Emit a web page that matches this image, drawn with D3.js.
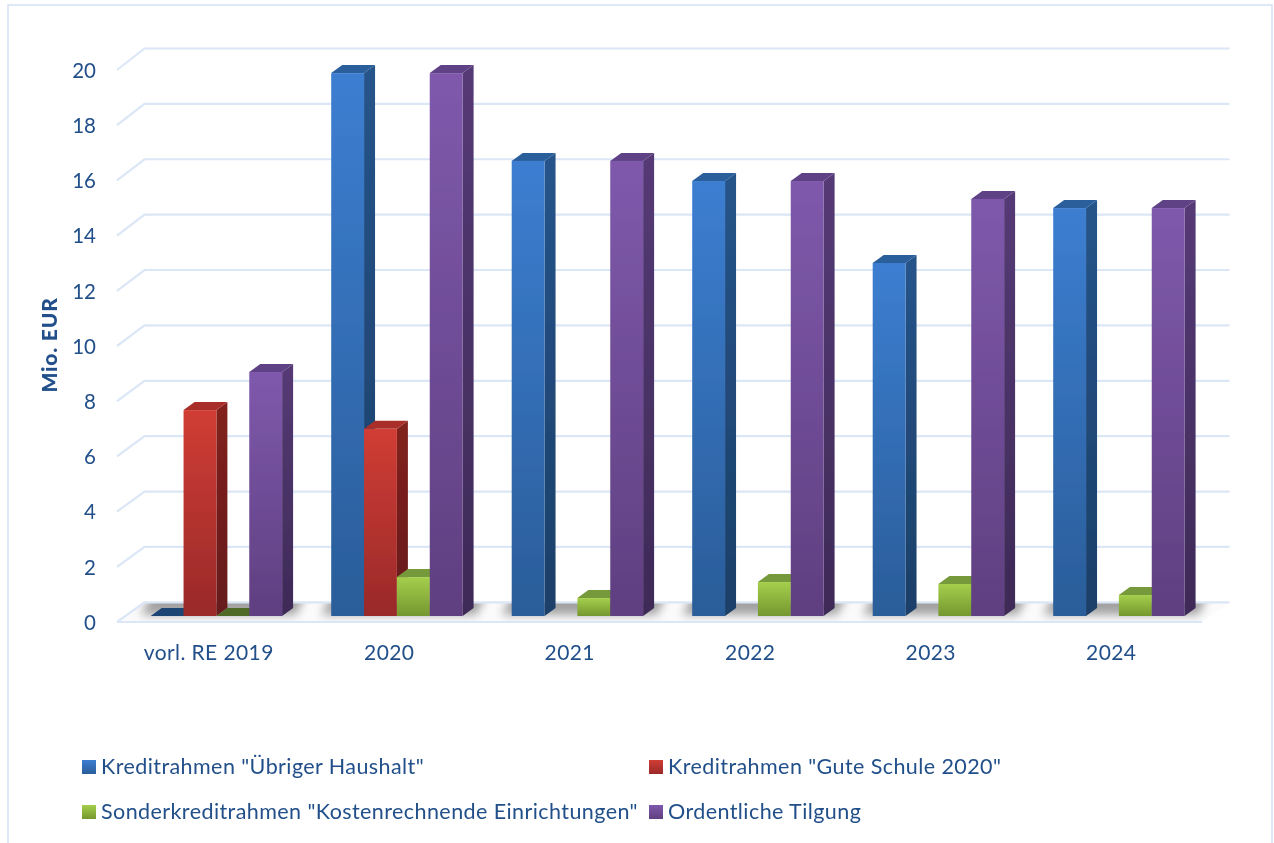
<!DOCTYPE html>
<html><head><meta charset="utf-8">
<script src="https://cdn.jsdelivr.net/npm/d3@7/dist/d3.min.js"></script>
<style>html,body{margin:0;padding:0;background:#fff;overflow:hidden}svg{display:block}text{font-family:Lato,sans-serif}</style>
</head><body><div id="c"></div>
<script>
const categories=["vorl. RE 2019","2020","2021","2022","2023","2024"];
const seriesNames=['Kreditrahmen "Übriger Haushalt"','Kreditrahmen "Gute Schule 2020"','Sonderkreditrahmen "Kostenrechnende Einrichtungen"','Ordentliche Tilgung'];
const uebriger=[0,19.67,16.49,15.76,12.79,14.78];
const guteSchule=[7.46,6.78,0,0,0,0];
const sonder=[0,1.41,0.65,1.23,1.16,0.76];
const tilgung=[8.84,19.67,16.49,15.76,15.11,14.78];
const allSeries=[uebriger,guteSchule,sonder,tilgung];
const yTicks=[0,2,4,6,8,10,12,14,16,18,20];
const palette=[
 {t:"#3c7ed1",b:"#2a5d99",st:"#26548a",sb:"#1b3f68",top:"#2b5e9c",zero:"#1c4473"},
 {t:"#d03d34",b:"#99292a",st:"#82211f",sb:"#651b1b",top:"#a92f2b",zero:"#a92f2b"},
 {t:"#a4cf4c",b:"#76972f",st:"#62802a",sb:"#4c6422",top:"#76993a",zero:"#4f6a26"},
 {t:"#7f59ac",b:"#5f3f80",st:"#553a75",sb:"#3e2a57",top:"#5f4286",zero:"#5f4286"}];

const W=1274,H=843,dx=11,dy=-8;
const svg=d3.select("#c").append("svg").attr("width",W).attr("height",H);
const defs=svg.append("defs");
palette.forEach((p,i)=>{
  const mk=(id,a,b)=>{const g=defs.append("linearGradient").attr("id",id).attr("x1",0).attr("y1",0).attr("x2",0).attr("y2",1);
    g.append("stop").attr("offset","0%").attr("stop-color",a);g.append("stop").attr("offset","100%").attr("stop-color",b);};
  mk("f"+i,p.t,p.b);mk("s"+i,p.st,p.sb);
  mk("l"+i,p.t,p.b);
});
defs.append("filter").attr("id","blur").attr("filterUnits","userSpaceOnUse").attr("x",80).attr("y",560).attr("width",1190).attr("height",90)
  .append("feGaussianBlur").attr("stdDeviation",5);
defs.append("filter").attr("id","soft").attr("x","-5%").attr("y","-5%").attr("width","110%").attr("height","110%")
  .append("feGaussianBlur").attr("stdDeviation",0.55);
defs.append("filter").attr("id","softText").attr("x","-5%").attr("y","-5%").attr("width","110%").attr("height","110%")
  .append("feGaussianBlur").attr("stdDeviation",0.3);

const frame="#d6e4f6",gridC="#dbe6f6",txt="#22508a";
svg.append("rect").attr("x",8).attr("y",5).attr("width",1264).attr("height",H+20).attr("fill","#fff").attr("stroke",frame).attr("stroke-width",1.6);

const frontX=[117,1202],backDX=27.5;
const yBack=d3.scaleLinear().domain([0,20]).range([602.3,48.5]);
const yFront=d3.scaleLinear().domain([0,20]).range([622,70]);
const yBar=d3.scaleLinear().domain([0,20]).range([616,64]);
const x=d3.scaleBand().domain(categories).range([117,1200]);
const xSeries=d3.scaleBand().domain(d3.range(4)).range([33.7,33.7+131.4]);

const root=svg.append("g").attr("filter","url(#soft)");
const floorPts=[[frontX[0],yFront(0)],[frontX[0]+backDX,yBack(0)],[frontX[1]+backDX,yBack(0)],[frontX[1],yFront(0)]].join(" ");
const floor=root.append("g");
floor.append("polygon").attr("points",floorPts).attr("fill","#fbfbfc");
defs.append("clipPath").attr("id","fl").append("polygon").attr("points",floorPts);
const sh=floor.append("g").attr("clip-path","url(#fl)").append("g").attr("filter","url(#blur)");
categories.forEach(c=>{
  const l=x(c)+xSeries(0), r=x(c)+xSeries(3)+xSeries.bandwidth();
  sh.append("polygon").attr("points",[[l-10,yBar(0)-1],[l+4,yBack(0)-14],[r+dx+15,yBack(0)-14],[r+dx+3,yBar(0)-1]].join(" ")).attr("fill","#a2a2a2");
});
const grid=root.append("g").attr("fill","none").attr("stroke",gridC).attr("stroke-width",2.2);
yTicks.forEach(t=>{
  grid.append("path").attr("d",`M${frontX[0]},${yFront(t)}L${frontX[0]+backDX},${yBack(t)}L${frontX[1]+backDX},${yBack(t)}`);
});
grid.append("path").attr("d",`M${frontX[0]},${yFront(0)}L${frontX[1]},${yFront(0)}`);
const bars=root.append("g");
const bw=xSeries.bandwidth();
categories.forEach((c,ci)=>{
  allSeries.forEach((vals,si)=>{
    const v=vals[ci]; const p=palette[si];
    if(si===1 && v===0) return;
    const x0=x(c)+xSeries(si), x1=x0+bw, yt=yBar(v), yb=yBar(0);
    const g=bars.append("g");
    if(v>0) g.append("polygon").attr("points",[[x1,yt],[x1+dx,yt+dy],[x1+dx,yb+dy],[x1,yb]].join(" ")).attr("fill",`url(#s${si})`);
    g.append("polygon").attr("points",[[x0,yt],[x0+dx,yt+dy],[x1+dx,yt+dy],[x1,yt]].join(" ")).attr("fill",v>0?p.top:p.zero);
    if(v>0) g.append("rect").attr("x",x0).attr("y",yt).attr("width",bw).attr("height",yb-yt).attr("fill",`url(#f${si})`);
  });
});
const texts=svg.append("g").attr("filter","url(#softText)");
const yAxis=d3.axisLeft(yFront).tickValues(yTicks).tickSize(0).tickPadding(0);
const ya=texts.append("g").attr("transform","translate(96,0)").call(yAxis);
ya.select(".domain").remove();
ya.selectAll("text").attr("fill",txt).style("font-size","20.5px").style("font-family","Lato,sans-serif").attr("dy","0.36em");
const xLab=d3.scalePoint().domain(categories).range([x(categories[0])+x.bandwidth()/2,x(categories[5])+x.bandwidth()/2]);
const xa=texts.append("g").attr("transform","translate(1,645)").call(d3.axisBottom(xLab).tickSize(0).tickPadding(0));
xa.select(".domain").remove();
xa.selectAll("text").attr("fill",txt).style("font-size","21px").style("letter-spacing","0.4px").style("font-family","Lato,sans-serif").attr("dy","0.71em");
texts.append("text").attr("transform","translate(57,345) rotate(-90)").attr("text-anchor","middle").attr("fill",txt).style("font-size","21px").style("letter-spacing","0.8px").style("font-weight",900).text("Mio. EUR");
const lx=[82,649],ly=[760,805];
seriesNames.forEach((n,i)=>{
  const cx=lx[i%2],cy=ly[Math.floor(i/2)];
  svg.append("rect").attr("x",cx).attr("y",cy).attr("width",14).attr("height",14).attr("fill",`url(#l${i})`);
  texts.append("text").attr("x",cx+19).attr("y",cy+13.5).attr("fill",txt).style("font-size","21.5px").style("letter-spacing","0.42px").text(n);
});
</script></body></html>
